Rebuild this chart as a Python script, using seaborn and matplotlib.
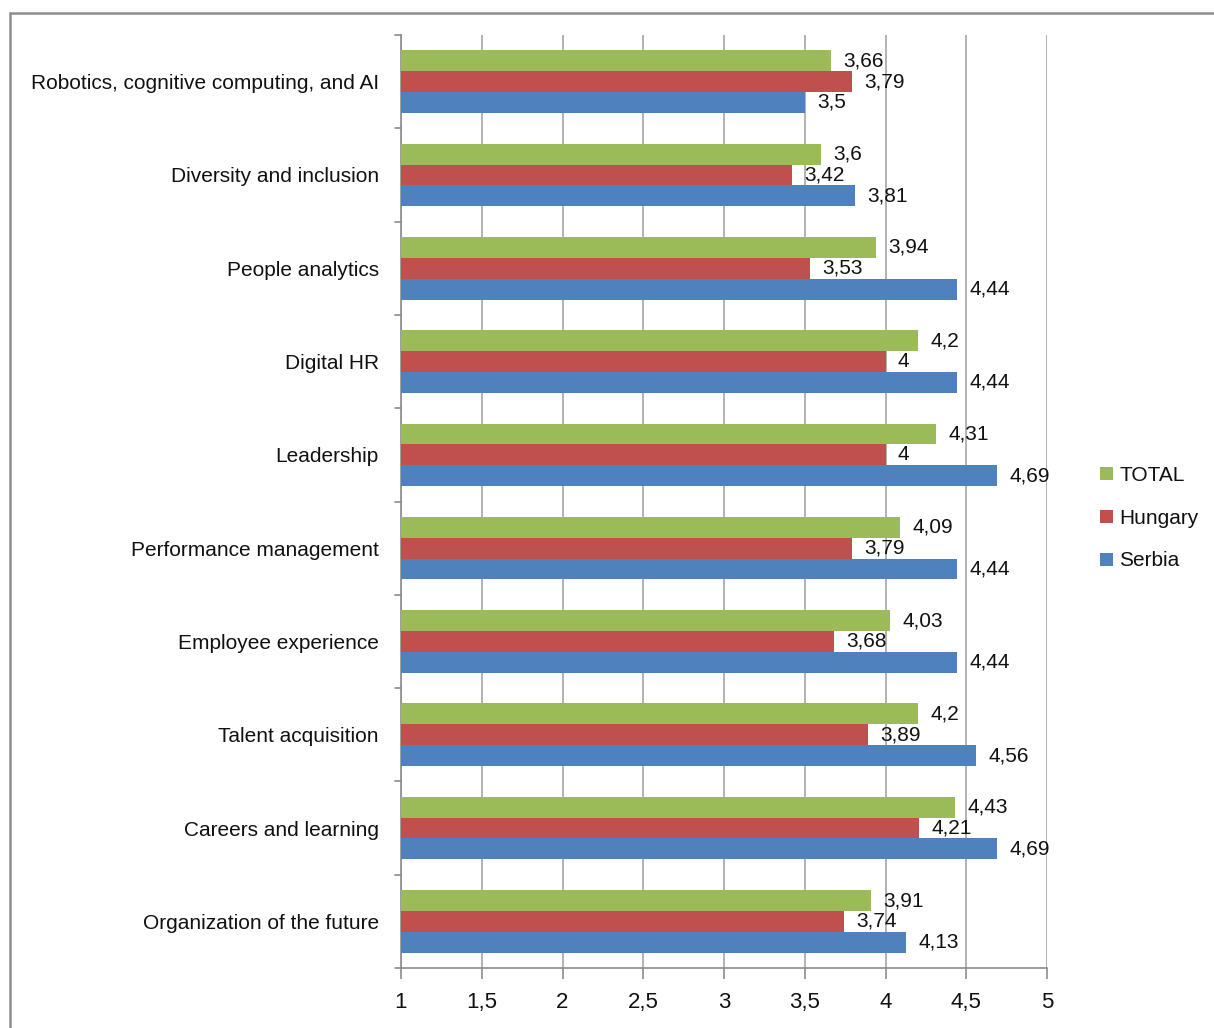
import matplotlib
matplotlib.use("Agg")
import matplotlib.pyplot as plt
import seaborn as sns
import pandas as pd
from matplotlib.patches import Patch, Rectangle
from matplotlib.ticker import FuncFormatter, MultipleLocator

categories = [
    "Robotics, cognitive computing, and AI",
    "Diversity and inclusion",
    "People analytics",
    "Digital HR",
    "Leadership",
    "Performance management",
    "Employee experience",
    "Talent acquisition",
    "Careers and learning",
    "Organization of the future",
]
series = ["TOTAL", "Hungary", "Serbia"]
total = [3.66, 3.60, 3.94, 4.20, 4.31, 4.09, 4.03, 4.20, 4.43, 3.91]
hungary = [3.79, 3.42, 3.53, 4.00, 4.00, 3.79, 3.68, 3.89, 4.21, 3.74]
serbia = [3.50, 3.81, 4.44, 4.44, 4.69, 4.44, 4.44, 4.56, 4.69, 4.13]
colors = ["#9BBB59", "#C0504D", "#4F81BD"]

sns.set_theme(style="white")
plt.rcParams["font.family"] = ["Liberation Sans", "DejaVu Sans"]

df = pd.DataFrame({
    "category": categories * 3,
    "series": [s for s in series for _ in categories],
    "value": total + hungary + serbia,
})

W, H = 1214, 1028
fig = plt.figure(figsize=(W / 100, H / 100), dpi=100)
ax = fig.add_axes([401 / W, 1 - 968 / H, (1047 - 401) / W, (968 - 35) / H])

sns.barplot(data=df, y="category", x="value", hue="series", order=categories,
            hue_order=series, palette=colors, orient="h", width=0.67,
            saturation=1, errorbar=None, legend=False, ax=ax, zorder=3,
            linewidth=0, edgecolor="none")

ax.set_xlim(1, 5)
ax.set_ylim(len(categories) - 0.5, -0.5)
ax.xaxis.set_major_locator(MultipleLocator(0.5))
ax.xaxis.set_major_formatter(FuncFormatter(lambda v, p: f"{v:g}".replace(".", ",")))
ax.grid(axis="x", color="#A6A6A6", linewidth=1.2, zorder=0)
ax.set_axisbelow(True)
ax.set_xlabel("")
ax.set_ylabel("")

for s in ["top", "right"]:
    ax.spines[s].set_visible(False)
for s in ["left", "bottom"]:
    ax.spines[s].set_color("#8C8C8C")
    ax.spines[s].set_linewidth(1.2)

ax.set_yticks([i for i in range(len(categories))])
ax.set_yticklabels(categories, fontsize=15, color="#111111")
ax.tick_params(axis="y", length=0, pad=16)
for b in [i - 0.5 for i in range(len(categories) + 1)]:
    ax.plot([-0.009, 0], [b, b], transform=ax.get_yaxis_transform(),
            color="#8C8C8C", lw=1.2, clip_on=False)
ax.tick_params(axis="x", length=8, width=1.2, color="#8C8C8C", labelsize=16, pad=9,
               direction="out", bottom=True, labelcolor="#111111")

for cont in ax.containers:
    labels = [f"{b.get_width():g}".replace(".", ",") for b in cont]
    ax.bar_label(cont, labels=labels, padding=9, fontsize=15, color="#111111")

handles = [Patch(facecolor=c, edgecolor="none", label=s) for s, c in zip(series, colors)]
leg = fig.legend(handles=handles, loc="center left", bbox_to_anchor=(1090 / W, 1 - 518 / H),
                 frameon=False, fontsize=15, handlelength=0.6, handleheight=0.6,
                 handletextpad=0.3, labelspacing=1.15, borderpad=0)
for t in leg.get_texts():
    t.set_color("#111111")

fig.patches.append(Rectangle((10 / W, -0.01), 1.0, 1 - 13 / H + 0.01, transform=fig.transFigure,
                             fill=False, edgecolor="#8C8C8C", linewidth=1.8))

fig.savefig("out.png", dpi=100)
